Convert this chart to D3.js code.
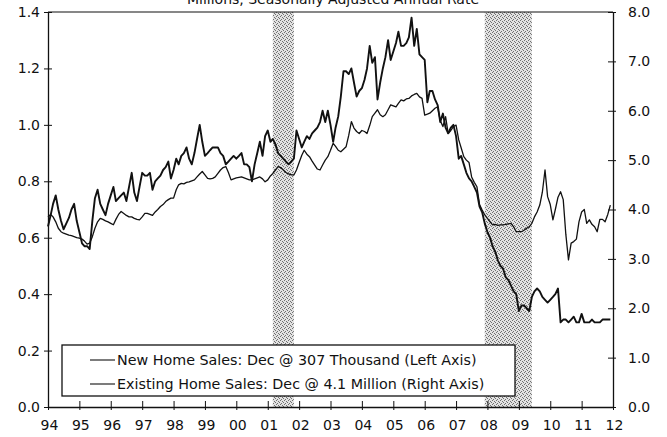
<!DOCTYPE html>
<html>
<head>
<meta charset="utf-8">
<script src="https://cdn.jsdelivr.net/npm/d3@7"></script>
<style>
  body { margin: 0; background: #fff; }
  svg text { font-family: "DejaVu Sans", Verdana, sans-serif; fill: #111; }
</style>
</head>
<body>
<div id="chart"></div>
<script>
// monthly values, Jan 1994 .. Dec 2011
const newHomeSales = [
  0.64, 0.68, 0.72, 0.75, 0.70, 0.66, 0.63, 0.65, 0.67, 0.70, 0.72, 0.66, // 94
  0.62, 0.58, 0.57, 0.57, 0.56, 0.66, 0.74, 0.77, 0.72, 0.70, 0.68, 0.72, // 95
  0.75, 0.78, 0.73, 0.74, 0.75, 0.76, 0.73, 0.78, 0.83, 0.76, 0.73, 0.78, // 96
  0.83, 0.82, 0.82, 0.83, 0.77, 0.80, 0.81, 0.82, 0.84, 0.85, 0.87, 0.81, // 97
  0.84, 0.88, 0.86, 0.89, 0.90, 0.92, 0.88, 0.86, 0.90, 0.95, 1.00, 0.94, // 98
  0.89, 0.90, 0.91, 0.92, 0.92, 0.92, 0.90, 0.89, 0.86, 0.87, 0.88, 0.89, // 99
  0.88, 0.89, 0.90, 0.86, 0.86, 0.85, 0.80, 0.86, 0.90, 0.94, 0.89, 0.96, // 00
  0.98, 0.94, 0.95, 0.93, 0.90, 0.89, 0.88, 0.87, 0.86, 0.87, 0.88, 0.98, // 01
  0.95, 0.92, 0.94, 0.96, 0.95, 0.97, 0.98, 0.99, 1.01, 1.05, 1.01, 1.05, // 02
  1.00, 0.94, 0.99, 1.03, 1.10, 1.19, 1.19, 1.18, 1.20, 1.15, 1.10, 1.12, // 03
  1.13, 1.16, 1.20, 1.28, 1.22, 1.24, 1.09, 1.15, 1.20, 1.24, 1.30, 1.23, // 04
  1.26, 1.29, 1.33, 1.28, 1.28, 1.29, 1.31, 1.38, 1.28, 1.34, 1.25, 1.24, // 05
  1.23, 1.08, 1.12, 1.12, 1.09, 1.07, 1.01, 1.04, 0.99, 0.97, 0.99, 1.00, // 06
  0.96, 0.88, 0.89, 0.86, 0.83, 0.81, 0.80, 0.78, 0.76, 0.71, 0.69, 0.65, // 07
  0.62, 0.60, 0.57, 0.55, 0.52, 0.50, 0.49, 0.46, 0.45, 0.43, 0.41, 0.40, // 08
  0.34, 0.36, 0.36, 0.35, 0.34, 0.39, 0.41, 0.42, 0.41, 0.39, 0.38, 0.37, // 09
  0.38, 0.39, 0.40, 0.42, 0.30, 0.31, 0.31, 0.30, 0.31, 0.32, 0.30, 0.30, // 10
  0.33, 0.30, 0.30, 0.30, 0.31, 0.30, 0.30, 0.30, 0.31, 0.31, 0.31, 0.31  // 11
];

const existingHomeSales = [
  3.85, 3.90, 3.85, 3.75, 3.62, 3.55, 3.52, 3.50, 3.48, 3.47, 3.45, 3.43,
  3.42, 3.40, 3.36, 3.30, 3.32, 3.45, 3.62, 3.75, 3.82, 3.80, 3.77, 3.75,
  3.72, 3.69, 3.80, 3.90, 3.96, 3.92, 3.88, 3.85, 3.85, 3.82, 3.80, 3.79,
  3.85, 3.92, 3.92, 3.90, 3.88, 3.95, 4.00, 4.06, 4.10, 4.16, 4.20, 4.23,
  4.23, 4.40, 4.50, 4.53, 4.52, 4.55, 4.56, 4.58, 4.60, 4.66, 4.72, 4.77,
  4.70, 4.63, 4.62, 4.63, 4.66, 4.73, 4.80, 4.85, 4.87, 4.75, 4.60, 4.62,
  4.64, 4.65, 4.66, 4.64, 4.62, 4.60, 4.60, 4.62, 4.64, 4.66, 4.62, 4.56,
  4.60, 4.68, 4.73, 4.80, 4.87, 4.85, 4.80, 4.75, 4.72, 4.70, 4.70, 4.80,
  4.95, 5.10, 5.20, 5.12, 5.07, 4.98, 4.90, 4.82, 4.80, 4.90, 5.00, 5.07,
  5.20, 5.34, 5.28, 5.20, 5.17, 5.22, 5.27, 5.50, 5.78, 5.65, 5.58, 5.54,
  5.60, 5.58, 5.54, 5.70, 5.88, 5.95, 6.02, 5.92, 5.88, 5.92, 6.02, 6.12,
  6.10, 6.08, 6.15, 6.22, 6.20, 6.24, 6.25, 6.30, 6.33, 6.35, 6.28, 6.25,
  5.91, 5.93, 5.95, 6.00, 6.05, 6.08, 5.80, 5.68, 5.88, 5.54, 5.60, 5.68,
  5.71, 5.41, 5.25, 5.07, 5.00, 4.95, 4.66, 4.55, 4.46, 4.10, 3.99, 3.89,
  3.82, 3.75, 3.69, 3.70, 3.68, 3.69, 3.69, 3.70, 3.71, 3.72, 3.65, 3.55,
  3.55, 3.55, 3.58, 3.62, 3.65, 3.72, 3.85, 3.95, 4.09, 4.35, 4.80, 4.26,
  4.10, 3.79, 4.00, 4.25, 4.36, 4.20, 3.50, 2.98, 3.32, 3.35, 3.40, 3.75,
  3.95, 4.00, 3.72, 3.79, 3.70, 3.65, 3.55, 3.80, 3.80, 3.75, 3.90, 4.09
];

const recessions = [['2001-03-01', '2001-11-01'], ['2007-12-01', '2009-06-01']];
const yearLabels = ['94', '95', '96', '97', '98', '99', '00', '01', '02', '03',
  '04', '05', '06', '07', '08', '09', '10', '11', '12'];
const leftTicks = [0, 0.2, 0.4, 0.6, 0.8, 1.0, 1.2, 1.4];
const rightTicks = [0, 1, 2, 3, 4, 5, 6, 7, 8];
const legendLabels = [
  'New Home Sales: Dec @ 307 Thousand (Left Axis)',
  'Existing Home Sales: Dec @ 4.1 Million (Right Axis)'
];
const titleText = 'Millions, Seasonally Adjusted Annual Rate';

const width = 667;
const height = 437;
const plot = { left: 48, right: 613, top: 12, bottom: 407 };

const start = new Date(1994, 0, 1);
const monthDate = i => d3.timeMonth.offset(start, i);
const parse = d3.timeParse('%Y-%m-%d');

const x = d3.scaleTime()
  .domain([start, new Date(2012, 0, 1)])
  .range([plot.left, plot.right]);
const yLeft = d3.scaleLinear().domain([0, 1.4]).range([plot.bottom, plot.top]);
const yRight = d3.scaleLinear().domain([0, 8]).range([plot.bottom, plot.top]);

const svg = d3.select('#chart').append('svg')
  .attr('width', width)
  .attr('height', height);

// dotted grey fill used for the recession bands
const pat = svg.append('defs').append('pattern')
  .attr('id', 'dots')
  .attr('patternUnits', 'userSpaceOnUse')
  .attr('width', 4).attr('height', 4);
pat.append('rect').attr('width', 4).attr('height', 4).attr('fill', '#e2e2e2');
[[0, 0], [2, 1], [1, 3], [3, 2]].forEach(([px, py]) => {
  pat.append('rect').attr('x', px).attr('y', py)
    .attr('width', 1).attr('height', 1).attr('fill', '#707070');
});

// clipped title remnant at the very top
svg.append('text')
  .attr('x', 333).attr('y', 4)
  .attr('text-anchor', 'middle')
  .style('font-size', '14px')
  .text(titleText);

svg.selectAll('.recession')
  .data(recessions)
  .enter()
  .append('rect')
  .attr('class', 'recession')
  .attr('x', d => x(parse(d[0])))
  .attr('width', d => x(parse(d[1])) - x(parse(d[0])))
  .attr('y', plot.top)
  .attr('height', plot.bottom - plot.top)
  .attr('fill', 'url(#dots)');

const lineLeft = d3.line()
  .x((d, i) => x(monthDate(i)))
  .y(d => yLeft(d));
const lineRight = d3.line()
  .x((d, i) => x(monthDate(i)))
  .y(d => yRight(d));

svg.append('path')
  .datum(existingHomeSales)
  .attr('d', lineRight)
  .attr('fill', 'none')
  .attr('stroke', '#111')
  .attr('stroke-width', 1.3)
  .attr('stroke-linejoin', 'round');

svg.append('path')
  .datum(newHomeSales)
  .attr('d', lineLeft)
  .attr('fill', 'none')
  .attr('stroke', '#111')
  .attr('stroke-width', 1.9)
  .attr('stroke-linejoin', 'round');

// top frame line
svg.append('line')
  .attr('x1', plot.left).attr('x2', plot.right)
  .attr('y1', plot.top).attr('y2', plot.top)
  .attr('stroke', '#111').attr('stroke-width', 1.2);

const xAxis = d3.axisBottom(x)
  .tickValues(yearLabels.map((d, i) => new Date(1994 + i, 0, 1)))
  .tickFormat((d, i) => yearLabels[i])
  .tickSizeOuter(0);

const gx = svg.append('g')
  .attr('transform', `translate(0, ${plot.bottom})`)
  .call(xAxis);
gx.selectAll('.tick line').attr('y1', -6).attr('y2', 3).attr('stroke', '#111');
gx.selectAll('.tick text').attr('y', 23).attr('dy', null).attr('dx', 1)
  .style('font-size', '14px');

const gl = svg.append('g')
  .attr('transform', `translate(${plot.left}, 0)`)
  .call(d3.axisLeft(yLeft).tickValues(leftTicks).tickFormat(d3.format('.1f')).tickSizeOuter(0));
gl.selectAll('.tick line').attr('x1', -4).attr('x2', 4).attr('stroke', '#111');
gl.selectAll('.tick text').attr('x', -8).style('font-size', '14px');

const gr = svg.append('g')
  .attr('transform', `translate(${plot.right}, 0)`)
  .call(d3.axisRight(yRight).tickValues(rightTicks).tickFormat(d3.format('.1f')).tickSizeOuter(0));
gr.selectAll('.tick line').attr('x1', -5).attr('x2', 3).attr('stroke', '#111');
gr.selectAll('.tick text').attr('x', 15).style('font-size', '14px');

[gx, gl, gr].forEach(g => {
  g.select('.domain').attr('stroke', '#111').attr('stroke-width', 1.3);
  g.attr('font-family', null).attr('font-size', null);
});

// legend
const legend = svg.append('g');
legend.append('rect')
  .attr('x', 62).attr('y', 345)
  .attr('width', 453).attr('height', 51)
  .attr('fill', '#fff')
  .attr('stroke', '#111')
  .attr('stroke-width', 1.3);

legendLabels.forEach((label, i) => {
  const cy = 360 + i * 24;
  legend.append('line')
    .attr('x1', 90).attr('x2', 115)
    .attr('y1', cy).attr('y2', cy)
    .attr('stroke', '#111').attr('stroke-width', 1.1);
  legend.append('text')
    .attr('x', 117).attr('y', cy + 5)
    .style('font-size', '14.3px')
    .text(label);
});
</script>
</body>
</html>
